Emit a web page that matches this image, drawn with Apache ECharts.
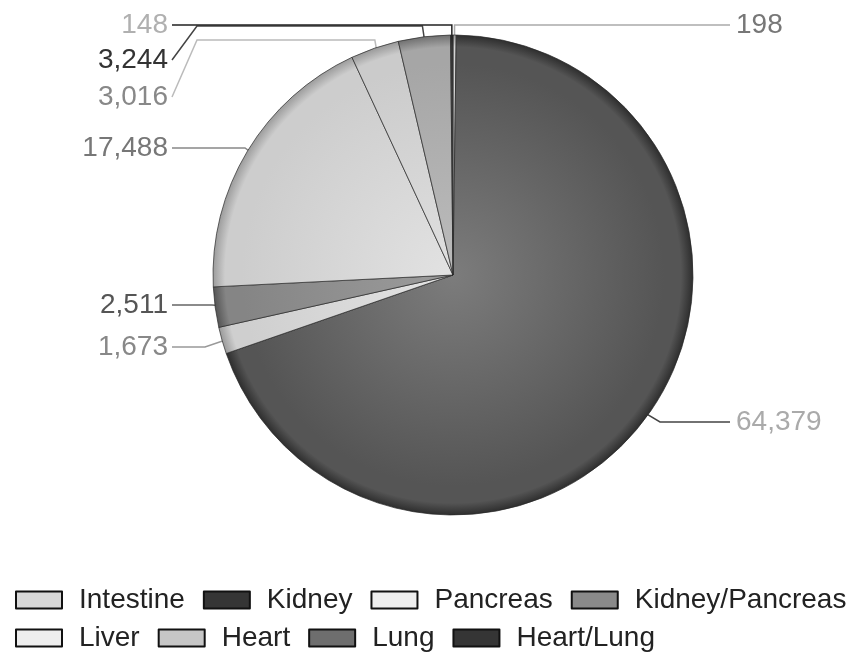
<!DOCTYPE html>
<html><head><meta charset="utf-8">
<script src="https://cdn.jsdelivr.net/npm/echarts@6/dist/echarts.min.js"></script>
<style>html,body{margin:0;padding:0;background:#fff}#c{width:851px;height:654px}</style>
</head><body><div id="c"></div>
<script>
// ---- data ----
const organs = ['Intestine','Kidney','Pancreas','Kidney/Pancreas','Liver','Heart','Lung','Heart/Lung'];
const waiting = [198, 64379, 1673, 2511, 17488, 3016, 3244, 148];

// ---- styling ----
const sliceShade = { // [center, body, rim]
  'Intestine':       ['#e8e8e8','#d4d4d4','#9a9a9a'],
  'Kidney':          ['#7c7c7c','#555555','#2e2e2e'],
  'Pancreas':        ['#e4e4e4','#cfcfcf','#9a9a9a'],
  'Kidney/Pancreas': ['#9c9c9c','#858585','#555555'],
  'Liver':           ['#e2e2e2','#cdcdcd','#9c9c9c'],
  'Heart':           ['#e0e0e0','#cbcbcb','#999999'],
  'Lung':            ['#bcbcbc','#a6a6a6','#707070'],
  'Heart/Lung':      ['#555555','#3a3a3a','#222222']
};
const legendColor = {
  'Intestine':'#d9d9d9','Kidney':'#353535','Pancreas':'#eeeeee','Kidney/Pancreas':'#8a8a8a',
  'Liver':'#eeeeee','Heart':'#c6c6c6','Lung':'#6e6e6e','Heart/Lung':'#353535'
};
const labelColor = {
  'Intestine':'#777','Kidney':'#aaa','Pancreas':'#888','Kidney/Pancreas':'#555',
  'Liver':'#777','Heart':'#888','Lung':'#333','Heart/Lung':'#b0b0b0'
};
const lineColor = {
  'Intestine':'#aaa','Kidney':'#444','Pancreas':'#999','Kidney/Pancreas':'#666',
  'Liver':'#888','Heart':'#bbb','Lung':'#444','Heart/Lung':'#222'
};
const CX = 453, CY = 275, R = 240;
// label routing (layout only)
const route = {
  'Heart/Lung':      {side:'left',  y:25,  guideY:25},
  'Lung':            {side:'left',  y:60,  guideY:26, bendX:197},
  'Heart':           {side:'left',  y:97,  guideY:40, bendX:197},
  'Liver':           {side:'left',  y:148, elbowX:245},
  'Kidney/Pancreas': {side:'left',  y:305, elbowX:212},
  'Pancreas':        {side:'left',  y:347, elbowX:205},
  'Kidney':          {side:'right', y:422, elbowX:660},
  'Intestine':       {side:'right', y:25,  guideY:25}
};
const LEFT_X = 168, RIGHT_X = 736;

const total = waiting.reduce((a,b)=>a+b,0);
function anchorFor(i, k){
  let before = 0;
  for (let j=0;j<i;j++) before += waiting[j];
  const mid = (before + waiting[i]/2) / total * Math.PI * 2; // clockwise from top
  return [CX + Math.sin(mid)*R*k, CY - Math.cos(mid)*R*k];
}

const chart = echarts.init(document.getElementById('c'), null, {renderer:'canvas'});
const FONT = '"Liberation Sans", Arial, Helvetica, sans-serif';

const seriesData = organs.map((n,i)=>({
  name: n,
  value: waiting[i],
  itemStyle: {
    color: {type:'radial', x:CX, y:CY, r:R, global:true, colorStops:[
      {offset:0, color:sliceShade[n][0]},
      {offset:0.88, color:sliceShade[n][1]},
      {offset:0.95, color:sliceShade[n][1]},
      {offset:1, color:sliceShade[n][2]}
    ]}
  },
  label: {color: labelColor[n]},
  labelLine: {lineStyle: {color: lineColor[n], width: 1.5}}
}));

function legendRow(names, top){
  return {
    left: 10, top: top, width: 1000, orient:'horizontal',
    itemWidth: 46, itemHeight: 17, itemGap: 18, icon:'rect',
    selectedMode: false,
    textStyle: {fontSize: 28, color:'#222', fontFamily: FONT, padding:[0,0,0,12]},
    data: names.map(n=>({name:n, itemStyle:{color:legendColor[n], borderColor:'#111', borderWidth:2}}))
  };
}

chart.setOption({
  animation: false,
  backgroundColor: '#fff',
  legend: [legendRow(organs.slice(0,4), 581), legendRow(organs.slice(4), 619)],
  series: [{
    type: 'pie',
    center: [CX, CY],
    radius: [0, R],
    startAngle: 90,
    clockwise: true,
    avoidLabelOverlap: false,
    itemStyle: {borderColor:'rgba(40,40,40,0.7)', borderWidth:1},
    label: {show:true, position:'outside', fontSize:28, fontFamily: FONT,
      formatter: p => p.value.toLocaleString('en-US')},
    labelLine: {show:true, length:10, length2:10, smooth:false},
    emphasis: {disabled:true},
    labelLayout: function(p){
      const n = organs[p.dataIndex];
      const r = route[n];
      const a = anchorFor(p.dataIndex, 0.96);
      const tx = r.side === 'left' ? LEFT_X + 4 : RIGHT_X - 6;
      let pts;
      if (r.guideY != null && r.bendX == null) {
        pts = [[tx, r.y], [a[0], r.guideY], [a[0], a[1]]];
      } else if (r.bendX != null) {
        pts = [[tx, r.y], [r.bendX, r.guideY], [a[0]-3, r.guideY], [a[0], a[1]]];
      } else {
        pts = [[tx, r.y], [r.elbowX, r.y], a];
      }
      return {
        x: r.side === 'left' ? LEFT_X : RIGHT_X,
        y: r.y,
        align: r.side === 'left' ? 'right' : 'left',
        verticalAlign: 'middle',
        labelLinePoints: pts
      };
    },
    data: seriesData
  }]
});
</script>
</body></html>
